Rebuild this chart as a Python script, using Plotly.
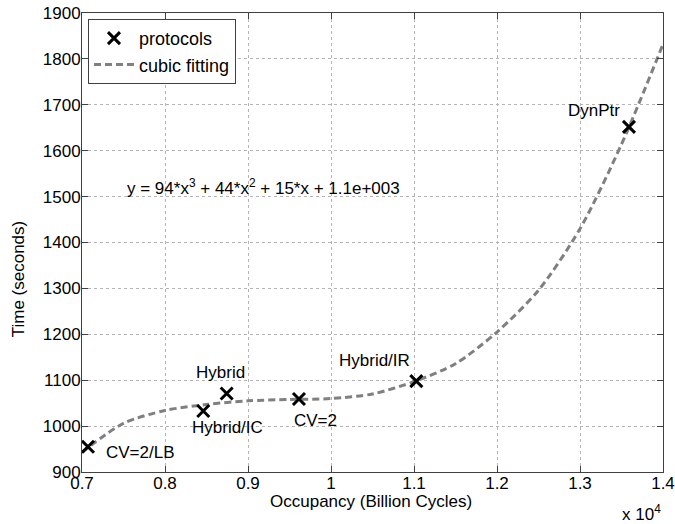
import plotly.graph_objects as go

# Protocol measurements (occupancy in cycles, time in seconds)
protocol_names = ["CV=2/LB", "Hybrid/IC", "Hybrid", "CV=2", "Hybrid/IR", "DynPtr"]
protocol_x = [7072, 8461, 8743, 9614, 11028, 13590]
protocol_y = [955, 1033, 1071, 1059, 1098, 1652]

# Cubic fitting curve
fit_x = [7000, 7500, 8000, 8500, 9000, 9500, 10000, 10500, 11000, 11500,
         12000, 12500, 13000, 13500, 14000]
fit_y = [943, 1006, 1034, 1047, 1055, 1058, 1060, 1070, 1097, 1136,
         1205, 1296, 1430, 1614, 1832]

x_tick_vals = [7000, 8000, 9000, 10000, 11000, 12000, 13000, 14000]
x_tick_text = ["0.7", "0.8", "0.9", "1", "1.1", "1.2", "1.3", "1.4"]
y_tick_vals = [900, 1000, 1100, 1200, 1300, 1400, 1500, 1600, 1700, 1800, 1900]

# label offsets (pixels) relative to each point
label_dx = [53, 24, -6, 17, -42, -35]
label_dy = [-6, -17, 21, -21, 21, 16]

equation = "y = 94*x<sup>3</sup> + 44*x<sup>2</sup> + 15*x + 1.1e+003"

FONT = "Liberation Sans, Arial, Helvetica, sans-serif"
FS = 17
AXC = "#404040"

fig = go.Figure()
fig.add_trace(go.Scatter(
    x=fit_x, y=fit_y, mode="lines", name="cubic fitting",
    line=dict(color="#808080", width=3, dash="7px,4px", shape="spline", smoothing=0.8),
    legendrank=2,
))
fig.add_trace(go.Scatter(
    x=protocol_x, y=protocol_y, mode="markers", name="protocols",
    marker=dict(symbol="x-thin", size=12, color="black",
                line=dict(color="black", width=3)),
    legendrank=1,
))

for name, x, y, dx, dy in zip(protocol_names, protocol_x, protocol_y, label_dx, label_dy):
    fig.add_annotation(x=x, y=y, xref="x", yref="y", text=name, showarrow=False,
                       xshift=dx, yshift=dy, font=dict(size=FS, color="black", family=FONT))

fig.add_annotation(x=0.074, y=0.622, xref="paper", yref="paper", text=equation,
                   showarrow=False, xanchor="left", yanchor="middle",
                   font=dict(size=FS, color="black", family=FONT))
fig.add_annotation(x=0.497, y=-0.065, xref="paper", yref="paper",
                   text="Occupancy (Billion Cycles)", showarrow=False,
                   xanchor="center", yanchor="middle",
                   font=dict(size=FS, color="black", family=FONT))
fig.add_annotation(x=-0.110, y=0.42, xref="paper", yref="paper",
                   text="Time (seconds)", showarrow=False, textangle=-90,
                   xanchor="center", yanchor="middle",
                   font=dict(size=FS, color="black", family=FONT))
fig.add_annotation(x=1.0, y=-0.09, xref="paper", yref="paper",
                   text="x 10<sup>4</sup>", showarrow=False,
                   xanchor="right", yanchor="middle",
                   font=dict(size=FS, color="black", family=FONT))

axis_common = dict(
    showline=True, linecolor=AXC, linewidth=1, mirror="ticks",
    ticks="inside", ticklen=6, tickcolor=AXC, tickwidth=1,
    showgrid=True, gridcolor="#b4b4b4", gridwidth=1, griddash="dot",
    zeroline=False, automargin=False,
    tickfont=dict(size=FS, color="black", family=FONT),
)

fig.update_xaxes(range=[7000, 14000], tickmode="array", tickvals=x_tick_vals,
                 ticktext=x_tick_text, ticklabelstandoff=-4, **axis_common)
fig.update_yaxes(range=[900, 1900], tickmode="array", tickvals=y_tick_vals,
                 ticklabelstandoff=-3, **axis_common)

fig.update_layout(
    width=675, height=524,
    margin=dict(l=82, r=12, t=13, b=52, autoexpand=False),
    plot_bgcolor="white", paper_bgcolor="white",
    font=dict(family=FONT, size=FS, color="black"),
    showlegend=True,
    legend=dict(x=0.0103, y=0.987, xanchor="left", yanchor="top",
                bgcolor="white", bordercolor=AXC, borderwidth=1,
                font=dict(size=18, family=FONT, color="black"),
                tracegroupgap=0, itemwidth=40),
)

fig.write_html("out.html")
